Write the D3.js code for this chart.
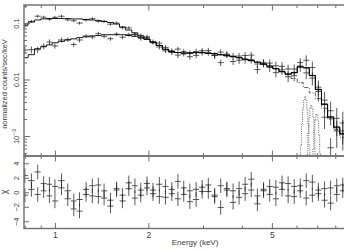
<!DOCTYPE html>
<html lang="en">
<head>
<meta charset="UTF-8">
<title>spectrum</title>
<style>
  body { margin: 0; background: #fff; }
  svg { display: block; }
  text { font-family: "Liberation Sans", Arial, sans-serif; fill: #3a3a3a; }
</style>
</head>
<body>
<div id="chart"></div>
<script src="https://d3js.org/d3.v7.min.js"></script>
<script>
// bin centres (keV)
const energy = [0.80,0.84,0.88,0.92,0.96,1.00,1.05,1.10,1.15,1.20,1.26,1.32,1.38,1.44,1.51,1.58,1.65,1.73,1.81,1.89,1.98,2.07,2.17,2.27,2.38,2.49,2.60,2.72,2.85,2.98,3.12,3.27,3.42,3.58,3.75,3.92,4.10,4.29,4.49,4.70,4.92,5.15,5.39,5.64,5.90,6.17,6.45,6.75,7.06,7.39,7.73,8.09,8.46]

// spectrum 1 (upper at low energy)
const data1 = [0.0894,0.1065,0.132,0.1265,0.1164,0.1258,0.1315,0.1135,0.1095,0.0996,0.1129,0.1191,0.107,0.1073,0.0953,0.0994,0.0826,0.0818,0.0632,0.0604,0.0545,0.0448,0.044,0.0321,0.0322,0.0345,0.0283,0.0298,0.0267,0.0323,0.0295,0.0265,0.0305,0.0274,0.0208,0.026,0.0223,0.027,0.0188,0.0193,0.0195,0.0132,0.0148,0.0154,0.0117,0.0199,0.0219,0.0106,0.0073,0.00215,0.0028,0.00123,0.00123]
const err1 = [0.07,0.06,0.06,0.06,0.06,0.06,0.06,0.06,0.06,0.06,0.06,0.06,0.06,0.06,0.06,0.07,0.07,0.07,0.07,0.08,0.08,0.08,0.09,0.09,0.10,0.10,0.10,0.10,0.11,0.11,0.11,0.12,0.12,0.12,0.13,0.13,0.14,0.14,0.15,0.15,0.16,0.17,0.18,0.19,0.20,0.20,0.22,0.26,0.32,0.38,0.45,0.5,0.55]
const model1 = [0.092,0.104,0.113,0.118,0.120,0.120,0.120,0.120,0.118,0.118,0.115,0.113,0.111,0.106,0.102,0.096,0.085,0.075,0.067,0.059,0.052,0.0455,0.040,0.0343,0.031,0.030,0.0292,0.0292,0.030,0.030,0.0292,0.0286,0.0275,0.0264,0.0254,0.0244,0.0229,0.0216,0.0203,0.0187,0.0173,0.0156,0.0138,0.0125,0.0133,0.0169,0.0162,0.0118,0.0067,0.0037,0.0022,0.00145,0.00111]
const resid1 = [-0.4,0.4,2.8,1.2,-0.5,0.8,1.6,-0.9,-1.2,-2.6,-0.3,0.9,-0.6,0.2,-1.1,0.5,-0.4,1.3,-0.8,0.3,0.6,-0.2,1.1,-0.7,0.4,1.5,-0.3,0.2,-1.0,0.7,0.1,-0.6,0.9,0.3,-1.4,0.5,-0.2,1.8,-0.5,0.2,0.8,-0.9,0.4,1.2,-0.6,0.9,1.6,-0.4,0.3,-1.1,0.6,-0.3,0.2]

// spectrum 2 (lower at low energy)
const data2 = [0.0332,0.0337,0.0336,0.0389,0.046,0.0392,0.0501,0.0509,0.0416,0.05,0.0588,0.0566,0.0648,0.058,0.0526,0.0635,0.056,0.0624,0.0622,0.0536,0.0568,0.0467,0.0376,0.037,0.0303,0.027,0.0314,0.0253,0.0312,0.0301,0.0325,0.0269,0.0199,0.028,0.026,0.0219,0.0266,0.0225,0.015,0.0198,0.0163,0.0175,0.0171,0.0112,0.0153,0.0173,0.0131,0.0163,0.00615,0.00432,0.00062,0.00206,0.0017]
const err2 = [0.16,0.14,0.13,0.12,0.11,0.10,0.10,0.09,0.09,0.09,0.08,0.08,0.08,0.08,0.08,0.08,0.08,0.08,0.08,0.09,0.09,0.09,0.10,0.10,0.11,0.11,0.11,0.11,0.12,0.12,0.12,0.13,0.13,0.13,0.14,0.14,0.15,0.15,0.16,0.16,0.17,0.18,0.19,0.20,0.21,0.21,0.23,0.28,0.34,0.40,0.47,0.52,0.58]
const model2 = [0.0243,0.0275,0.035,0.038,0.041,0.0446,0.0473,0.050,0.0524,0.055,0.057,0.059,0.060,0.062,0.062,0.062,0.062,0.060,0.058,0.0556,0.0513,0.0455,0.040,0.0343,0.031,0.030,0.0295,0.0295,0.0298,0.0297,0.029,0.0284,0.0274,0.0263,0.0253,0.0243,0.0228,0.0215,0.0202,0.0186,0.0172,0.0155,0.0137,0.0124,0.0131,0.0166,0.0160,0.0117,0.0066,0.0036,0.0021,0.0014,0.00108]
const resid2 = [2.3,1.6,-0.3,0.2,1.1,-1.2,0.6,0.2,-2.3,-1.0,0.4,-0.5,1.0,-0.8,-1.9,0.3,-1.2,0.5,0.9,-0.4,1.2,0.3,-0.6,0.8,-0.2,-0.9,0.6,-1.3,0.4,0.1,1.0,-0.4,-2.1,0.5,0.2,-0.7,1.1,0.3,-1.6,0.4,-0.3,0.7,1.3,-0.5,0.8,0.2,-0.8,1.4,-0.2,0.5,-1.5,0.9,1.0]

// model components: continuum and Fe K lines
const contE = [5.64,5.90,6.17,6.45,6.75,7.06,7.39,7.73,8.09,8.46]
const cont = [0.0122,0.0104,0.0088,0.0072,0.0058,0.0046,0.0031,0.0020,0.0013,0.00095]
const lineE = [5.95,6.00,6.05,6.10,6.15,6.20,6.25,6.30,6.35,6.40,6.45,6.50,6.55,6.60,6.65,6.70,6.75,6.80,6.85,6.90,6.95,7.00,7.05,7.10,7.15,7.20,7.25]
const line64 = [0.000001,0.000002,0.000011,0.000056,0.00022,0.00068,0.00162,0.00303,0.00441,0.0050,0.00441,0.00303,0.00162,0.00068,0.00022,0.000056,0.000011,0.000002,0.000001,0.000001,0.000001,0.000001,0.000001,0.000001,0.000001,0.000001,0.000001]
const line67 = [0.000001,0.000001,0.000001,0.000001,0.000001,0.000001,0.000001,0.000001,0.000008,0.00004,0.00015,0.00047,0.00114,0.00212,0.00309,0.0035,0.00309,0.00212,0.00114,0.00047,0.00015,0.00004,0.000008,0.000001,0.000001,0.000001,0.000001]
const line70 = [0.000001,0.000001,0.000001,0.000001,0.000001,0.000001,0.000001,0.000001,0.000001,0.000001,0.000001,0.000001,0.000001,0.000003,0.000015,0.000065,0.00022,0.00059,0.00122,0.00196,0.00245,0.00239,0.00182,0.00107,0.0005,0.00018,0.00005]

// axis ticks
const xMajor = [1, 2, 5]
const xMinor = [0.8, 0.9, 3, 4, 6, 7, 8]
const yMajor = [0.001, 0.01, 0.1]
const yMinor = [5e-4,6e-4,7e-4,8e-4,9e-4,0.002,0.003,0.004,0.005,0.006,0.007,0.008,0.009,0.02,0.03,0.04,0.05,0.06,0.07,0.08,0.09,0.2]
const chiTicks = [-4, -2, 0, 2, 4]

const width = 344, height = 251
const left = 24, right = 345
const top1 = 5, bot1 = 156, bot2 = 228.5
const frameColor = '#6e6e6e'

const x = d3.scaleLog().domain([0.795, 8.6]).range([left, right])
const y = d3.scaleLog().domain([4.43e-4, 0.208]).range([bot1, top1])
const yr = d3.scaleLinear().domain([-5, 5]).range([bot2, bot1])

const svg = d3.select('#chart').append('svg')
    .attr('width', width)
    .attr('height', height)

svg.append('clipPath').attr('id', 'clipTop')
    .append('rect').attr('x', left).attr('y', top1).attr('width', right - left).attr('height', bot1 - top1)
svg.append('clipPath').attr('id', 'clipBot')
    .append('rect').attr('x', left).attr('y', bot1).attr('width', right - left).attr('height', bot2 - bot1)

// bin edges from neighbouring centres
function edges(arr) {
    return arr.map((e, i) => {
        const lo = i > 0 ? Math.sqrt(arr[i - 1] * e) : e * e / Math.sqrt(e * arr[i + 1])
        const hi = i < arr.length - 1 ? Math.sqrt(e * arr[i + 1]) : e * e / Math.sqrt(arr[i - 1] * e)
        return [lo, hi]
    })
}
const bins = edges(energy)

function stepPoints(ed, vals) {
    const pts = []
    vals.forEach((v, i) => { pts.push([ed[i][0], v], [ed[i][1], v]) })
    return pts
}
const stepLine = d3.line().x(d => x(d[0])).y(d => y(d[1]))

const gTop = svg.append('g').attr('clip-path', 'url(#clipTop)')
const gBot = svg.append('g').attr('clip-path', 'url(#clipBot)')

// components
gTop.append('path')
    .attr('d', stepLine(stepPoints(edges(contE), cont)))
    .attr('fill', 'none').attr('stroke', '#333').attr('stroke-width', 0.8)
    .attr('stroke-dasharray', '4,1.5,1,1.5')
const lineBins = edges(lineE)
;[line64, line67, line70].forEach(comp => {
    gTop.append('path')
        .attr('d', stepLine(stepPoints(lineBins, comp)))
        .attr('fill', 'none').attr('stroke', '#444').attr('stroke-width', 0.8)
        .attr('stroke-dasharray', '1,1.2')
})

// crosses
function crosses(g, vals, errs, yScale, isResid) {
    const c = g.append('g').attr('stroke', '#1a1a1a').attr('stroke-width', 0.8).attr('opacity', 0.9)
    vals.forEach((v, i) => {
        const lo = isResid ? v - 1 : v * (1 - errs[i])
        const hi = isResid ? v + 1 : v * (1 + errs[i])
        c.append('line')
            .attr('x1', x(bins[i][0])).attr('x2', x(bins[i][1]))
            .attr('y1', yScale(v)).attr('y2', yScale(v))
        c.append('line')
            .attr('x1', x(energy[i])).attr('x2', x(energy[i]))
            .attr('y1', yScale(lo)).attr('y2', yScale(hi))
    })
}
crosses(gTop, data1, err1, y, false)
crosses(gTop, data2, err2, y, false)

// models
;[model1, model2].forEach(m => {
    gTop.append('path')
        .attr('d', stepLine(stepPoints(bins, m)))
        .attr('fill', 'none').attr('stroke', '#000').attr('stroke-width', 0.9)
})

crosses(gBot, resid1, null, yr, true)
crosses(gBot, resid2, null, yr, true)

// frames
;[[top1, bot1], [bot1, bot2]].forEach(([t, b]) => {
    svg.append('rect')
        .attr('x', left).attr('y', t).attr('width', right - left + 4).attr('height', b - t)
        .attr('fill', 'none').attr('stroke', frameColor).attr('stroke-width', 1.4)
})

// x ticks, inward on every horizontal edge
function xTicks(yPos, dir, withLabels) {
    const mk = (vals, size) => {
        const ax = (dir === 'down' ? d3.axisTop(x) : d3.axisBottom(x))
            .tickValues(vals).tickSizeInner(-size).tickSizeOuter(0).tickFormat('')
        const g = svg.append('g').attr('transform', `translate(0,${yPos})`).call(ax)
        g.select('.domain').remove()
        g.selectAll('line').attr('stroke', frameColor).attr('stroke-width', 1)
        return g
    }
    mk(xMinor, 3)
    const g = mk(xMajor, 5.5)
    if (withLabels) {
        g.selectAll('.tick text')
            .text(d => d3.format('d')(d))
            .attr('y', 3.5).attr('dy', '0.71em')
            .attr('font-size', 8.5).attr('fill', '#3a3a3a')
    }
}
xTicks(top1, 'down', false)
xTicks(bot1, 'up', false)
xTicks(bot1, 'down', false)
xTicks(bot2, 'up', true)

// y ticks (upper, log)
const yMinorAxis = svg.append('g').attr('transform', `translate(${left},0)`)
    .call(d3.axisLeft(y).tickValues(yMinor).tickSizeInner(-3).tickSizeOuter(0).tickFormat(''))
yMinorAxis.select('.domain').remove()
yMinorAxis.selectAll('line').attr('stroke', frameColor)

const yAxis = svg.append('g').attr('transform', `translate(${left},0)`)
    .call(d3.axisLeft(y).tickValues(yMajor).tickSizeInner(-6).tickSizeOuter(0))
yAxis.select('.domain').remove()
yAxis.selectAll('line').attr('stroke', frameColor)
yAxis.selectAll('.tick text')
    .attr('transform', 'rotate(-90)')
    .attr('x', 0).attr('y', -5).attr('dy', 0)
    .attr('text-anchor', 'middle')
    .attr('font-size', 7.5).attr('fill', '#3a3a3a')
    .each(function (d) {
        const t = d3.select(this)
        if (d === 0.001) {
            t.text('')
            t.append('tspan').text('10')
            t.append('tspan').attr('dy', -3).attr('font-size', 6).text('−3')
        } else {
            t.text(d === 0.1 ? '0.1' : '0.01')
        }
    })

// chi ticks
const chiAxis = svg.append('g').attr('transform', `translate(${left},0)`)
    .call(d3.axisLeft(yr).tickValues(chiTicks).tickSizeInner(-5).tickSizeOuter(0))
chiAxis.select('.domain').remove()
chiAxis.selectAll('line').attr('stroke', frameColor)
chiAxis.selectAll('.tick text')
    .text(d => d < 0 ? '−' + Math.abs(d) : String(d))
    .attr('transform', 'rotate(-90)')
    .attr('x', 0).attr('y', -5).attr('dy', 0)
    .attr('text-anchor', 'middle')
    .attr('font-size', 7.5).attr('fill', '#3a3a3a')

// titles
svg.append('text')
    .attr('transform', `translate(6.5,84) rotate(-90)`)
    .attr('text-anchor', 'middle')
    .attr('font-size', 7.5)
    .text('normalized counts/sec/keV')
svg.append('text')
    .attr('transform', `translate(6.5,192) rotate(-90)`)
    .attr('text-anchor', 'middle')
    .attr('font-size', 9)
    .text('χ')
svg.append('text')
    .attr('x', 195).attr('y', 245)
    .attr('text-anchor', 'middle')
    .attr('font-size', 8)
    .text('Energy (keV)')
</script>
</body>
</html>
